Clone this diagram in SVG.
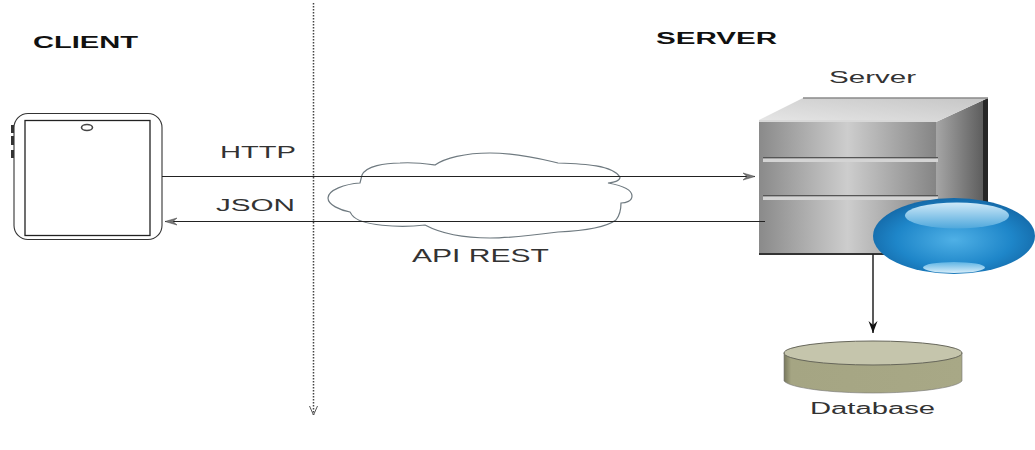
<svg xmlns="http://www.w3.org/2000/svg" width="1035" height="450" viewBox="0 0 1035 450">
<style>
text{font-family:"Liberation Sans",Arial,sans-serif;fill:#333;font-size:16px}
.b{font-weight:bold;fill:#111}
.line{fill:none;stroke:#222;stroke-width:1}
.slot{fill:#d4d4d4}
.slotd{fill:#555}
</style>
<defs>
<linearGradient id="front" x1="0" x2="1" y1="0" y2="0">
<stop offset="0" stop-color="#8a8a8a"/><stop offset=".5" stop-color="#cdcdcd"/><stop offset="1" stop-color="#858585"/>
</linearGradient>
<linearGradient id="side" x1="0" x2="1" y1="0" y2="0">
<stop offset="0" stop-color="#a6a6a6"/><stop offset=".9" stop-color="#5e5e5e"/><stop offset=".91" stop-color="#262626"/><stop offset="1" stop-color="#262626"/>
</linearGradient>
<linearGradient id="topf" x1="0" x2="1" y1="1" y2="0">
<stop offset="0" stop-color="#e6e6e6"/><stop offset="1" stop-color="#c6c6c6"/>
</linearGradient>
<radialGradient id="ball" cx=".5" cy=".55" r=".55">
<stop offset="0" stop-color="#4fb0e6"/><stop offset=".65" stop-color="#1e86c9"/><stop offset="1" stop-color="#1469a8"/>
</radialGradient>
<linearGradient id="hl" x1="0" x2="0" y1="0" y2="1">
<stop offset="0" stop-color="#cfe9f8"/><stop offset="1" stop-color="#4fa8dc"/>
</linearGradient>
<linearGradient id="hl2" x1="0" x2="0" y1="0" y2="1">
<stop offset="0" stop-color="#5fb4e4"/><stop offset="1" stop-color="#d8eefa"/>
</linearGradient>
<linearGradient id="dbb" x1="0" x2="1" y1="0" y2="0">
<stop offset="0" stop-color="#77775c"/><stop offset=".04" stop-color="#a5a583"/><stop offset="1" stop-color="#a8a886"/>
</linearGradient>
<marker id="barb" markerWidth="14" markerHeight="10" refX="13" refY="5" orient="auto" markerUnits="userSpaceOnUse">
<path d="M1 1.500L13 5L1 8.500L5 5Z" fill="#777" stroke="#444" stroke-width=".5"/>
</marker>
<marker id="dot" markerWidth="12" markerHeight="12" refX="10" refY="6" orient="auto" markerUnits="userSpaceOnUse">
<path d="M1 2L10 6L1 10" fill="none" stroke="#555" stroke-width="1"/>
</marker>
<marker id="solid" markerWidth="14" markerHeight="12" refX="13" refY="6" orient="auto" markerUnits="userSpaceOnUse">
<path d="M1 1.500L13 6L1 10.500L5 6Z" fill="#111"/>
</marker>
</defs>

<text class="b" x="33" y="48" textLength="105" lengthAdjust="spacingAndGlyphs">CLIENT</text>
<text class="b" x="656" y="44" textLength="121" lengthAdjust="spacingAndGlyphs">SERVER</text>

<g id="client">
<rect x="14" y="113.500" width="148" height="126" rx="14" fill="#fff" stroke="#333" stroke-width="1.100"/>
<rect x="25" y="120.500" width="125" height="115" fill="#fff" stroke="#222" stroke-width="1.300"/>
<ellipse cx="87" cy="127.500" rx="5.500" ry="3" fill="#fff" stroke="#444" stroke-width="1.600"/>
<rect x="11" y="125" width="3" height="8" fill="#333"/>
<rect x="11" y="136" width="3" height="9" fill="#333"/>
<rect x="11" y="150" width="3" height="8" fill="#333"/>
</g>

<g id="cloud">
<path d="M362 175C366 166 385 163 400 163C415 162 428 164 435 165C445 158 465 153 490 153C520 153 545 160 558 163C585 164 612 165 620 177C620 181 615 182 608 183C625 186 632 190 632 196C632 201 626 203 621 203C621 210 620 215 616 220C605 228 580 231 558 232C535 235 510 238 490 238C460 238 440 233 425 225C400 228 360 226 352 215L350 212C340 210 328 205 328 198C328 190 345 184 360 183Z" fill="#fff" stroke="#6f7a80" stroke-width="1.200"/>
<text x="412" y="262" textLength="137" lengthAdjust="spacingAndGlyphs" style="font-size:18px">API REST</text>
</g>

<g id="divider">
<path d="M313.500 3V415" fill="none" stroke="#444" stroke-width="1.500" stroke-dasharray="1.500 1.500" marker-end="url(#dot)"/>
</g>

<g id="server">
<text x="829" y="83" textLength="87" lengthAdjust="spacingAndGlyphs">Server</text>
<path d="M936 122L988 98V255H936Z" fill="url(#side)"/>
<path d="M759 120L803 98H988L936 122Z" fill="url(#topf)"/>
<path d="M803 98H988" stroke="#8a8a8a" stroke-width="1.500" fill="none"/>
<rect x="759" y="120" width="177" height="134" fill="url(#front)"/>
<rect x="759" y="120" width="177" height="2" fill="#d8d8d8"/>
<rect x="759" y="253" width="177" height="2" fill="#333"/>
<rect x="763" y="157" width="175" height="1.500" class="slotd"/>
<rect x="763" y="158.500" width="175" height="3.500" class="slot"/>
<rect x="763" y="195" width="175" height="1.500" class="slotd"/>
<rect x="763" y="196.500" width="175" height="3.500" class="slot"/>
<ellipse cx="954" cy="236" rx="81" ry="38" fill="url(#ball)"/>
<ellipse cx="957" cy="215.500" rx="52" ry="13" fill="url(#hl)"/>
<ellipse cx="954" cy="267.500" rx="31" ry="5.500" fill="url(#hl2)"/>
</g>

<g id="database">
<path d="M784 353V381C790 388 830 393 873 393C916 393 956 388 962 381V353Z" fill="url(#dbb)" stroke="#777" stroke-width=".6"/>
<ellipse cx="873" cy="353" rx="89" ry="12" fill="#c5c5ac" stroke="#66665a" stroke-width="1"/>
<text x="810" y="414" textLength="125" lengthAdjust="spacingAndGlyphs">Database</text>
</g>

<g id="connectors">
<path class="line" d="M162 176.500H755" marker-end="url(#barb)"/>
<path class="line" d="M765 221.500H165" marker-end="url(#barb)"/>
<path d="M873 254V333" fill="none" stroke="#222" stroke-width="1.500" marker-end="url(#solid)"/>
<text x="220" y="158" textLength="76" lengthAdjust="spacingAndGlyphs">HTTP</text>
<text x="216" y="211" textLength="79" lengthAdjust="spacingAndGlyphs">JSON</text>
</g>
</svg>
